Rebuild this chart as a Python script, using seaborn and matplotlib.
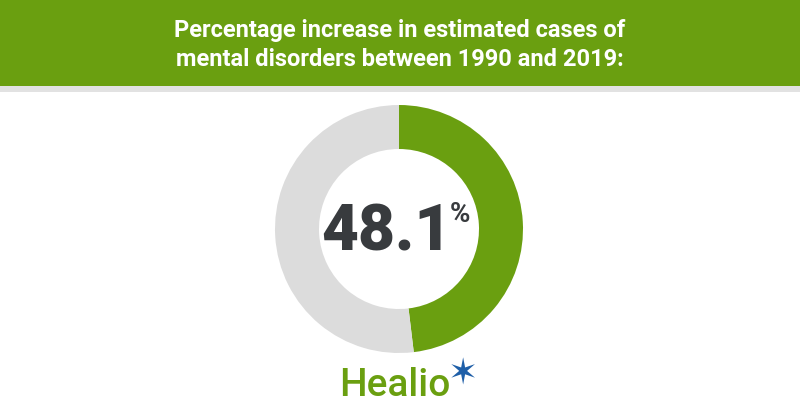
import matplotlib
matplotlib.use("Agg")
import matplotlib.pyplot as plt
import seaborn as sns
from matplotlib.patches import Rectangle

# Data
title_lines = ["Percentage increase in estimated cases of",
               "mental disorders between 1990 and 2019:"]
labels = ["Increase", "Remainder"]
values = [48.1, 51.9]
value_label = "48.1"
brand = "Healio"

GREEN = "#6a9f10"
GRAY = "#dcdcdc"
DARK = "#383b3e"
BLUE = "#1f5fa8"

sns.set_theme(style="white")
plt.rcParams['font.family'] = ['Roboto', 'DejaVu Sans']

W, H = 800, 420
fig = plt.figure(figsize=(8, 4.2), dpi=100)
fig.patch.set_facecolor("white")

# header band
fig.patches.append(Rectangle((0, 1 - 86 / H), 1, 86 / H, transform=fig.transFigure,
                             facecolor=GREEN, edgecolor="none", zorder=0))
fig.patches.append(Rectangle((0, 1 - 92 / H), 1, 6 / H, transform=fig.transFigure,
                             facecolor="#e2e2e2", edgecolor="none", zorder=0))
for i, line in enumerate(title_lines):
    fig.text(0.5, 1 - (31 + 29 * i) / H, line, ha="center", va="center",
             color="white", fontsize=17, fontweight="bold",
             family=['Roboto', 'DejaVu Sans'])

# donut
cx, cy, R = 399, 229, 124
half = 150
ax = fig.add_axes([(cx - half) / W, (H - cy - half) / H, 2 * half / W, 2 * half / H])
ax.pie(values, colors=[GREEN, GRAY], startangle=90, counterclock=False,
       radius=1, wedgeprops=dict(width=44 / R, edgecolor="none"))
ax.set_xlim(-half / R, half / R)
ax.set_ylim(-half / R, half / R)
ax.set_aspect("equal")
ax.axis("off")

# center value
ax.text(-0.105, -0.03, value_label, ha="center", va="center", color=DARK,
        fontsize=46, fontweight="heavy")
ax.text(0.49, 0.12, "%", ha="center", va="center", color=DARK,
        fontsize=20, fontweight="bold")

# brand
fig.text(395 / W, 1 - 385 / H, brand, ha="center", va="center", color=GREEN,
         fontsize=28, fontweight="medium", family=['Roboto', 'DejaVu Sans'])
fig.text(463 / W, 1 - 374 / H, "✶", ha="center", va="center", color=BLUE,
         fontsize=26, family=['DejaVu Sans'])

fig.savefig("out.png", dpi=100, facecolor="white")
